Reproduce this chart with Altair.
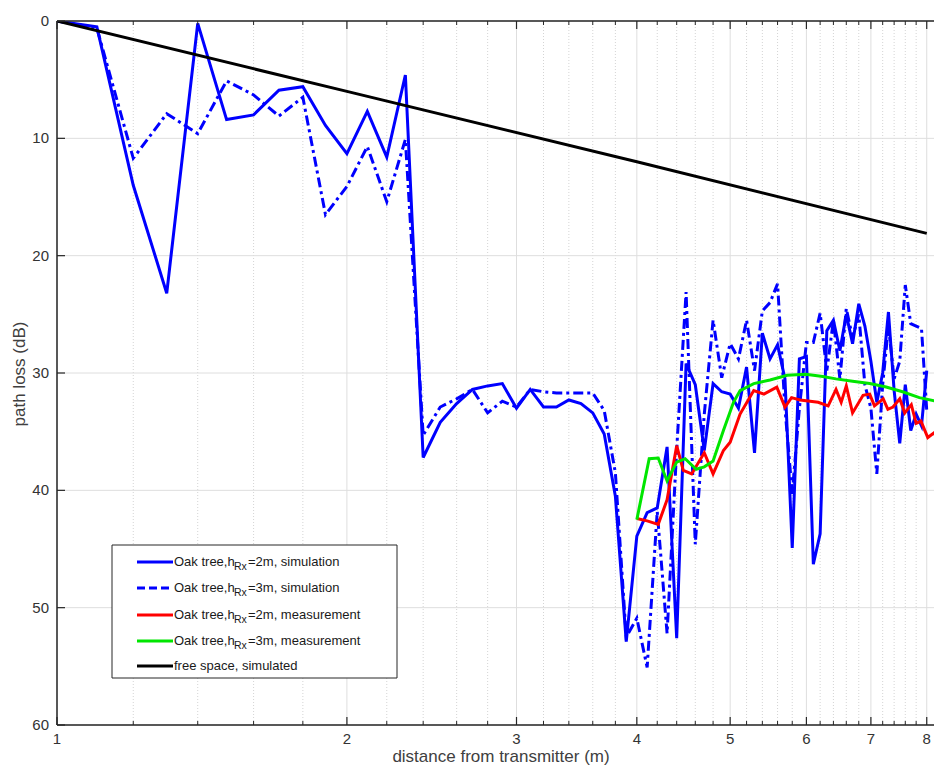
import altair as alt
import pandas as pd

# ---------------- data ----------------
sim_d = [1.0, 1.1, 1.2, 1.3, 1.4, 1.5, 1.6, 1.7, 1.8, 1.9,
         2.0, 2.1, 2.2, 2.3, 2.4, 2.5, 2.6, 2.7, 2.8, 2.9,
         3.0, 3.1, 3.2, 3.3, 3.4, 3.5, 3.6, 3.7, 3.8, 3.9,
         4.0, 4.1, 4.2, 4.3, 4.4, 4.5, 4.6, 4.7, 4.8, 4.9,
         5.0, 5.1, 5.2, 5.3, 5.4, 5.5, 5.6, 5.7, 5.8, 5.9,
         6.0, 6.1, 6.2, 6.3, 6.4, 6.5, 6.6, 6.7, 6.8, 6.9,
         7.0, 7.1, 7.2, 7.3, 7.4, 7.5, 7.6, 7.7, 7.8, 7.9, 8.0]

# Oak tree, hRx = 2 m, simulation (solid blue)
sim2_loss = [0.0, 0.5, 14.0, 23.2, 0.2, 8.4, 8.0, 5.9, 5.6, 8.9,
             11.3, 7.7, 11.6, 4.6, 37.2, 34.2, 32.6, 31.4, 31.1, 30.9,
             33.0, 31.4, 32.9, 32.9, 32.3, 32.6, 33.4, 35.2, 40.5, 52.9,
             43.9, 41.9, 41.5, 36.3, 52.6, 29.2, 31.0, 36.6, 30.9, 31.6,
             31.8, 33.0, 29.5, 36.8, 26.6, 28.8, 27.6, 30.5, 44.9, 28.8,
             28.6, 46.3, 43.7, 26.4, 25.5, 28.1, 25.0, 27.5, 24.1, 26.0,
             29.0, 32.5, 30.0, 24.8, 31.5, 36.0, 31.0, 34.9, 33.5, 34.5, 29.8]

# Oak tree, hRx = 3 m, simulation (dash-dot blue)
sim3_loss = [0.0, 0.6, 11.7, 7.9, 9.6, 5.1, 6.3, 8.1, 6.5, 16.5,
             14.1, 10.7, 15.4, 10.1, 35.3, 32.9, 32.2, 31.4, 33.4, 32.4,
             32.9, 31.4, 31.6, 31.7, 31.7, 31.7, 31.7, 33.2, 38.5, 52.5,
             50.9, 55.1, 41.8, 52.2, 36.5, 23.1, 44.6, 33.5, 25.5, 30.4,
             27.5, 28.8, 25.5, 29.8, 24.7, 24.0, 22.4, 33.0, 40.3, 33.0,
             27.4, 27.4, 24.9, 29.8, 25.5, 30.5, 24.5, 27.0, 25.0, 31.0,
             33.0, 38.6, 31.0, 26.0, 30.5, 29.0, 22.5, 25.8, 26.0, 26.2, 33.2]

# Oak tree, hRx = 2 m, measurement (red)
meas2_d = [4.00, 4.10, 4.21, 4.30, 4.40, 4.47, 4.56, 4.70, 4.80, 4.92,
           5.00, 5.12, 5.29, 5.42, 5.59, 5.70, 5.79, 5.91, 6.17, 6.32,
           6.44, 6.52, 6.60, 6.70, 6.87, 6.98, 7.06, 7.21, 7.29, 7.38,
           7.50, 7.59, 7.71, 7.80, 7.89, 8.02, 8.14, 8.28, 8.40]
meas2_loss = [42.4, 42.6, 42.9, 40.8, 36.2, 38.3, 38.6, 36.8, 38.6, 36.6,
              35.9, 33.5, 31.5, 31.8, 31.2, 32.9, 32.1, 32.3, 32.5, 32.8,
              31.4, 32.5, 31.1, 33.4, 31.9, 31.8, 32.8, 32.2, 33.1, 32.9,
              32.2, 33.4, 32.7, 34.3, 34.1, 35.5, 35.1, 36.1, 36.5]

# Oak tree, hRx = 3 m, measurement (green)
meas3_d = [4.00, 4.12, 4.21, 4.30, 4.40, 4.49, 4.61, 4.70, 4.80, 4.92,
           5.04, 5.12, 5.29, 5.50, 5.73, 5.99, 6.24, 6.44, 6.70, 6.98,
           7.26, 7.55, 7.86, 8.28, 8.40]
meas3_loss = [42.5, 37.3, 37.25, 39.2, 37.6, 37.3, 38.2, 38.0, 37.5, 34.9,
              32.5, 31.5, 30.9, 30.6, 30.2, 30.1, 30.3, 30.5, 30.7, 30.9,
              31.2, 31.6, 32.1, 32.5, 32.7]

# free space, simulated (black)
free_d = [1.0, 2.0, 4.0, 8.0]
free_loss = [0.0, 6.0, 12.0, 18.1]

x_major = [1, 2, 3, 4, 5, 6, 7, 8]
x_minor = [1.2, 1.4, 1.6, 1.8, 2.2, 2.4, 2.6, 2.8, 3.2, 3.4, 3.6, 3.8,
           4.2, 4.4, 4.6, 4.8, 5.2, 5.4, 5.6, 5.8, 6.2, 6.4, 6.6, 6.8,
           7.2, 7.4, 7.6, 7.8]
y_major = [0, 10, 20, 30, 40, 50, 60]

x_title = "distance from transmitter (m)"
y_title = "path loss (dB)"

legend_labels = [
    ("Oak tree,h", "Rx", "=2m, simulation"),
    ("Oak tree,h", "Rx", "=3m, simulation"),
    ("Oak tree,h", "Rx", "=2m, measurement"),
    ("Oak tree,h", "Rx", "=3m, measurement"),
    ("free space, simulated", "", ""),
]

# ---------------- styling ----------------
W, H = 877, 704
FONT = "Liberation Sans"
AX = "#262626"
LAB = "#333333"
BLUE, RED, GREEN, BLACK = "#0000FF", "#FF0000", "#00E600", "#000000"
DASHDOT = [10, 4, 3, 4]

xscale = alt.Scale(type="log", domain=[1, 8.14], nice=False, zero=False)
yscale = alt.Scale(domain=[0, 60], reverse=True, nice=False, zero=False)


def xq(field="d"):
    return alt.X(f"{field}:Q", scale=xscale, axis=None)


def yq(field="loss"):
    return alt.Y(f"{field}:Q", scale=yscale, axis=None)


df_xmaj = pd.DataFrame({"d": x_major, "lab": [str(v) for v in x_major]})
df_xmin = pd.DataFrame({"d": x_minor})
df_ymaj = pd.DataFrame({"loss": y_major, "lab": [str(v) for v in y_major]})
one = pd.DataFrame({"k": [0]})

grid_minor = alt.Chart(df_xmin).mark_rule(color="#d4d4d4", strokeWidth=1, strokeDash=[1, 2]).encode(x=xq())
grid_major = alt.Chart(df_xmaj).mark_rule(color="#dedede", strokeWidth=1).encode(x=xq())
grid_y = alt.Chart(df_ymaj).mark_rule(color="#dedede", strokeWidth=1).encode(y=yq())

df_sim2 = pd.DataFrame({"d": sim_d, "loss": sim2_loss})
df_sim3 = pd.DataFrame({"d": sim_d, "loss": sim3_loss})
df_m2 = pd.DataFrame({"d": meas2_d, "loss": meas2_loss})
df_m3 = pd.DataFrame({"d": meas3_d, "loss": meas3_loss})
df_free = pd.DataFrame({"d": free_d, "loss": free_loss})

line_sim2 = alt.Chart(df_sim2).mark_line(color=BLUE, strokeWidth=3, clip=True).encode(
    x=xq(), y=yq(), order="d:Q")
line_sim3 = alt.Chart(df_sim3).mark_line(color=BLUE, strokeWidth=3, strokeDash=DASHDOT, clip=True).encode(
    x=xq(), y=yq(), order="d:Q")
line_m2 = alt.Chart(df_m2).mark_line(color=RED, strokeWidth=3, clip=True).encode(
    x=xq(), y=yq(), order="d:Q")
line_m3 = alt.Chart(df_m3).mark_line(color=GREEN, strokeWidth=3, clip=True).encode(
    x=xq(), y=yq(), order="d:Q")
line_free = alt.Chart(df_free).mark_line(color=BLACK, strokeWidth=3, clip=True).encode(
    x=xq(), y=yq(), order="d:Q")

# axis box lines
left_line = alt.Chart(one).mark_rule(color=AX, strokeWidth=1.5).encode(
    x=alt.value(0), y=alt.value(0), y2=alt.value(H))
bottom_line = alt.Chart(one).mark_rule(color=AX, strokeWidth=1.5).encode(
    y=alt.value(H), x=alt.value(0), x2=alt.value(W))
top_line = alt.Chart(one).mark_rule(color=AX, strokeWidth=1.5).encode(
    y=alt.value(0), x=alt.value(0), x2=alt.value(W))

# inward ticks (bottom, top, left)
tb_maj = alt.Chart(df_xmaj).mark_rule(color=AX, strokeWidth=1.2).encode(x=xq(), y=alt.value(H), y2=alt.value(H - 8))
tb_min = alt.Chart(df_xmin).mark_rule(color=AX, strokeWidth=1).encode(x=xq(), y=alt.value(H), y2=alt.value(H - 4))
tt_maj = alt.Chart(df_xmaj).mark_rule(color=AX, strokeWidth=1.2).encode(x=xq(), y=alt.value(0), y2=alt.value(8))
tt_min = alt.Chart(df_xmin).mark_rule(color=AX, strokeWidth=1).encode(x=xq(), y=alt.value(0), y2=alt.value(4))
tl = alt.Chart(df_ymaj).mark_rule(color=AX, strokeWidth=1.2).encode(y=yq(), x=alt.value(0), x2=alt.value(8))

# tick labels
x_labels = alt.Chart(df_xmaj).mark_text(font=FONT, fontSize=15, color=LAB, align="center", baseline="top").encode(
    x=xq(), y=alt.value(H + 7), text="lab:N")
y_labels = alt.Chart(df_ymaj).mark_text(font=FONT, fontSize=15, color=LAB, align="right", baseline="middle").encode(
    y=yq(), x=alt.value(-8), text="lab:N")

# axis titles
x_title_mark = alt.Chart(pd.DataFrame({"t": [x_title]})).mark_text(
    font=FONT, fontSize=17, color="#404040", align="center", baseline="middle").encode(
    x=alt.value(444), y=alt.value(H + 32), text="t:N")
y_title_mark = alt.Chart(pd.DataFrame({"t": [y_title]})).mark_text(
    font=FONT, fontSize=17, color="#404040", align="center", baseline="middle", angle=270).encode(
    x=alt.value(-37), y=alt.value(353), text="t:N")

layers = [grid_minor, grid_major, grid_y, line_sim2, line_sim3, line_m2, line_m3, line_free,
          left_line, bottom_line, top_line, tb_maj, tb_min, tt_maj, tt_min, tl,
          x_labels, y_labels, x_title_mark, y_title_mark]

# ---------------- custom legend (MATLAB style, with subscript) ----------------
LX0, LX1, LY0, LY1 = 55, 340, 524, 657
layers.append(alt.Chart(one).mark_rect(fill="white", stroke=AX, strokeWidth=1).encode(
    x=alt.value(LX0), x2=alt.value(LX1), y=alt.value(LY0), y2=alt.value(LY1)))

row_y = [541, 567, 594, 620, 645]
row_color = [BLUE, BLUE, RED, GREEN, BLACK]
row_dash = [None, [8, 4], None, None, None]
TX = 117
FS = 13
for (p1, p2, p3), ry, col, dash in zip(legend_labels, row_y, row_color, row_dash):
    rule_kwargs = dict(color=col, strokeWidth=3)
    if dash:
        rule_kwargs["strokeDash"] = dash
    layers.append(alt.Chart(one).mark_rule(**rule_kwargs).encode(
        x=alt.value(80), x2=alt.value(116), y=alt.value(ry)))
    layers.append(alt.Chart(pd.DataFrame({"t": [p1]})).mark_text(
        align="left", baseline="middle", font=FONT, fontSize=FS, color="#1a1a1a").encode(
        x=alt.value(TX), y=alt.value(ry), text="t:N"))
    if p2:
        layers.append(alt.Chart(pd.DataFrame({"t": [p2]})).mark_text(
            align="left", baseline="middle", font=FONT, fontSize=10.5, color="#1a1a1a").encode(
            x=alt.value(TX + 60), y=alt.value(ry + 5), text="t:N"))
        layers.append(alt.Chart(pd.DataFrame({"t": [p3]})).mark_text(
            align="left", baseline="middle", font=FONT, fontSize=FS, color="#1a1a1a").encode(
            x=alt.value(TX + 74), y=alt.value(ry), text="t:N"))

chart = alt.layer(*layers).properties(
    width=W, height=H,
    autosize=alt.AutoSizeParams(type="none"),
    padding={"left": 49, "top": 13, "right": 0, "bottom": 41},
    background="white",
).configure_view(stroke=None)

chart.save("out.html", embed_options={"renderer": "svg", "actions": False})
